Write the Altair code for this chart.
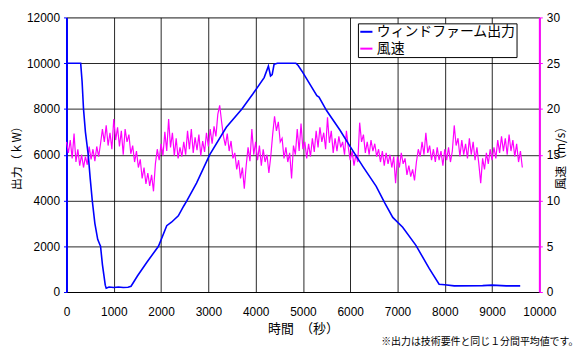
import altair as alt
import pandas as pd

# --- data ---
power_t = [0, 300, 330, 360, 400, 460, 500, 545, 600, 660, 700, 720, 760, 790, 820, 840,
           900, 1000, 1100, 1200, 1300, 1365, 1500, 1700, 1945, 2120, 2220, 2365, 2480,
           2550, 2750, 3030, 3380, 3710, 3940, 4180, 4270, 4315, 4350, 4390, 4460, 4850,
           4900, 4980, 5295, 5340, 5500, 5785, 6000, 6270, 6550, 6730, 6900, 7110, 7390,
           7670, 7880, 8000, 8200, 8800, 9000, 9300, 9595]
power_kw = [10000, 10000, 9200, 8000, 7000, 6000, 5000, 4000, 3000, 2300, 2100, 2000, 1200,
            750, 300, 170, 220, 200, 220, 200, 210, 250, 700, 1300, 2000, 2900, 3050, 3330,
            3760, 4000, 4760, 6000, 7200, 8000, 8650, 9370, 9870, 9440, 9500, 9950, 10000,
            10000, 9900, 9650, 8580, 8520, 7930, 7070, 6350, 5480, 4620, 3900, 3260, 2830,
            2040, 1030, 340, 320, 270, 280, 300, 270, 270]

wind_ms = [
    16.4, 15.2, 16.6, 14.6, 17.3, 14.2, 15.6, 13.8, 15.0, 13.6, 14.8, 13.9, 15.9, 14.5, 15.6,
    14.3, 15.9, 14.8, 16.2, 17.8, 16.4, 18.2, 16.0, 17.4, 15.6,
    18.9, 16.6, 18.0, 15.9, 17.6, 15.0, 17.8, 16.4, 17.2, 15.1, 16.0, 14.2, 15.4, 13.6, 14.5,
    12.4, 13.6, 11.8, 13.0, 11.6, 12.8, 11.0, 14.0, 15.6, 14.4,
    16.2, 14.9, 17.5, 15.4, 18.9, 15.8, 17.4, 14.9, 16.8, 14.6, 15.8, 14.8, 16.4, 15.0, 17.6,
    15.6, 17.8, 15.2, 16.9, 15.5, 17.2, 14.9, 16.5, 15.3, 17.4,
    15.9, 17.8, 16.2, 18.1, 17.0, 19.4, 20.4, 18.6, 17.0, 16.0, 17.3, 15.4, 16.5, 14.6, 15.2,
    13.4, 14.4, 12.4, 13.6, 11.3, 13.8, 15.8, 14.3, 17.8, 15.0,
    16.4, 14.4, 16.0, 13.8, 15.6, 14.2, 15.0, 13.0, 14.8, 17.2, 19.2, 17.6, 18.6, 16.4, 16.8,
    14.6, 15.8, 14.2, 15.2, 12.4, 16.0, 15.0, 17.8, 15.4, 18.4,
    15.6, 16.4, 14.6, 16.2, 14.8, 16.8, 15.3, 17.6, 15.8, 18.0, 16.4, 17.4, 15.6, 19.1, 16.3,
    17.6, 15.2, 16.8, 15.4, 17.0, 15.8, 16.4, 15.0, 17.6, 15.8,
    14.4, 15.4, 13.8, 15.0, 14.2, 18.5, 16.4, 17.2, 15.2, 16.4, 15.0, 16.6, 15.4, 16.2, 14.8,
    15.6, 14.2, 15.4, 13.8, 15.2, 14.0, 15.0, 13.6, 14.8, 11.9,
    14.8, 13.6, 15.2, 14.0, 14.6, 12.8, 13.8, 12.6, 13.4, 12.2, 14.2, 15.6, 14.8, 16.4, 15.0,
    17.4, 15.2, 16.0, 14.4, 15.6, 14.2, 15.8, 14.4, 15.4, 13.8,
    15.6, 14.4, 15.8, 14.2, 15.4, 18.2, 16.0, 16.8, 14.8, 16.6, 15.0, 16.2, 14.6, 16.8, 15.0,
    16.4, 14.4, 15.8, 14.0, 11.9, 14.6, 13.4, 15.2, 14.0, 15.6,
    14.4, 15.8, 14.6, 16.6, 15.2, 17.0, 15.4, 16.8, 15.0, 17.2, 15.4, 16.6, 14.8, 16.2, 14.2,
    15.4, 13.6,
]
wind_t = [40 * i for i in range(len(wind_ms))]

series_names = ["ウィンドファーム出力", "風速"]
series_colors = ["#0000ff", "#ff00ff"]

x_ticks = [0, 1000, 2000, 3000, 4000, 5000, 6000, 7000, 8000, 9000, 10000]
y_ticks = [0, 2000, 4000, 6000, 8000, 10000, 12000]
w_ticks = [0, 5, 10, 15, 20, 25, 30]

df_p = pd.DataFrame({"t": power_t, "v": power_kw, "series": series_names[0]})
df_w = pd.DataFrame({"t": wind_t, "v": wind_ms, "series": series_names[1]})

num_font = "Liberation Sans"
jp_font = "Noto Sans CJK JP"

color = alt.Color(
    "series:N",
    scale=alt.Scale(domain=series_names, range=series_colors),
    legend=alt.Legend(
        title=None, orient="none", legendX=294, legendY=6,
        fillColor="white", strokeColor="black", padding=1,
        symbolType="stroke", symbolSize=150, symbolStrokeWidth=2,
        labelFont=jp_font, labelFontSize=14, labelColor="black",
        rowPadding=2, symbolOffset=0, labelOffset=3,
    ),
)

x_enc = alt.X(
    "t:Q",
    scale=alt.Scale(domain=[0, 10000], nice=False),
    axis=alt.Axis(
        values=x_ticks, format="d", title="時間　（秒）", titleFont=jp_font, titleFontSize=13,
        titleFontWeight="normal", titlePadding=5, labelFont=num_font, labelFontSize=12,
        labelPadding=15, tickSize=0, domainColor="black", grid=True, gridColor="black",
        gridWidth=1, gridOpacity=0.85, labelFlush=False, labelColor="black",
        titleColor="black",
    ),
)

power = alt.Chart(df_p).mark_line(strokeWidth=1.6).encode(
    x=x_enc,
    y=alt.Y(
        "v:Q",
        scale=alt.Scale(domain=[0, 12000], nice=False),
        axis=alt.Axis(
            values=y_ticks, format="d", title="出力（ｋW）", titleFont=jp_font,
            titleFontSize=12, titleFontWeight="normal", titlePadding=3,
            labelFont=num_font, labelFontSize=12, labelPadding=4, tickSize=3,
            tickColor="#0000ff", domainColor="#0000ff", domainWidth=2, grid=False,
            labelColor="black", titleColor="black", orient="left",
        ),
    ),
    color=color,
)

wind = alt.Chart(df_w).mark_line(strokeWidth=1.2).encode(
    x=alt.X("t:Q", scale=alt.Scale(domain=[0, 10000], nice=False)),
    y=alt.Y(
        "v:Q",
        scale=alt.Scale(domain=[0, 30], nice=False),
        axis=alt.Axis(
            values=w_ticks, format="d", title="風速（m/s）", titleFont=jp_font,
            titleFontSize=12, titleFontWeight="normal", titleAngle=270, titlePadding=8,
            labelFont=num_font, labelFontSize=12, labelPadding=4, tickSize=3,
            tickColor="#ff00ff", domainColor="#ff00ff", domainWidth=2, grid=True,
            gridColor="black", gridWidth=1, gridOpacity=0.85,
            labelColor="black", titleColor="black", orient="right",
        ),
    ),
    color=color,
)

chart = (
    alt.layer(wind, power)
    .resolve_scale(y="independent")
    .properties(
        width=477, height=277,
        autosize=alt.AutoSizeParams(type="none"),
        padding={"left": 59, "top": 8, "right": 40, "bottom": 57},
        title=alt.TitleParams(
            "※出力は技術要件と同じ１分間平均値です。", orient="bottom", anchor="end",
            font=jp_font, fontSize=10, fontWeight="normal", color="black", offset=1, dx=12,
        ),
    )
    .configure_view(stroke="black", strokeWidth=1)
    .configure(background="white")
)

chart.save("out.html", embed_options={"renderer": "svg", "actions": False})
